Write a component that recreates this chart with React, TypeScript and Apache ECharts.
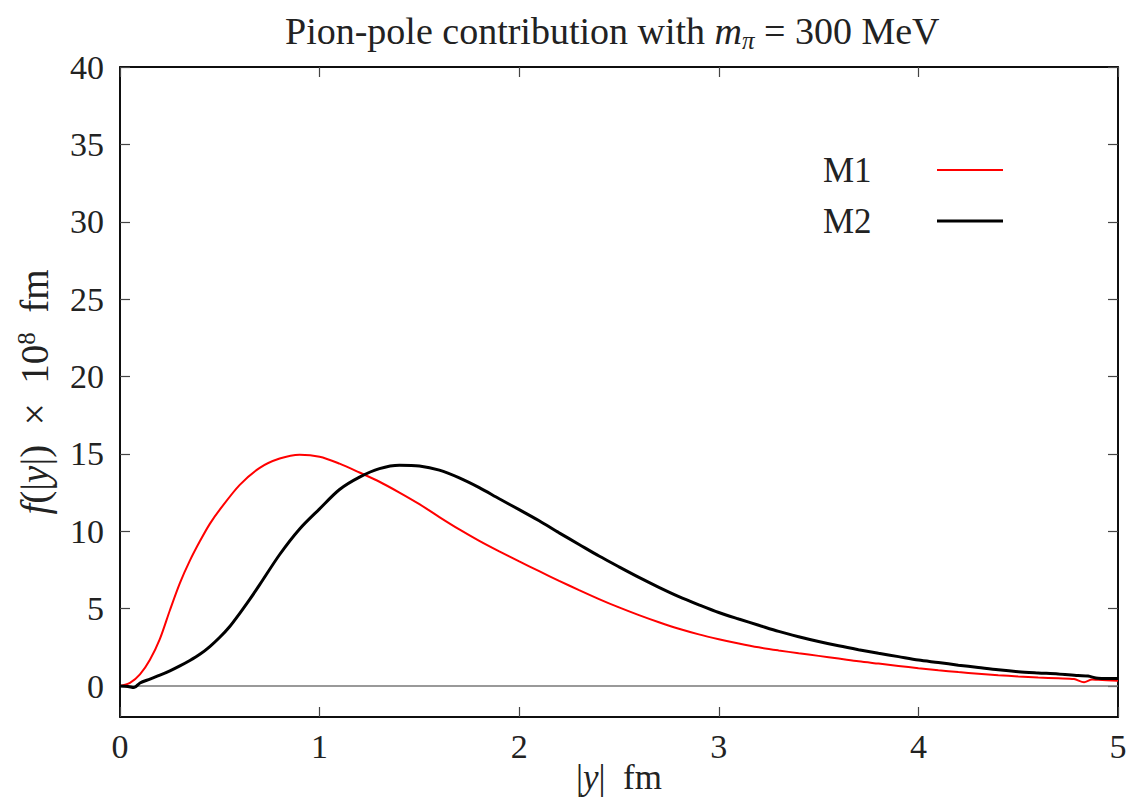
import React, { useEffect, useRef } from "react";
import * as echarts from "echarts";

const m1X = [0, 0.05, 0.1, 0.15, 0.2, 0.25, 0.3, 0.35, 0.4, 0.45, 0.5, 0.6, 0.7, 0.8, 0.9, 1.0, 1.1, 1.2, 1.3, 1.4, 1.5, 1.6, 1.7, 1.8, 1.9, 2.0, 2.1, 2.2, 2.3, 2.4, 2.5, 2.6, 2.7, 2.8, 2.9, 3.0, 3.1, 3.2, 3.3, 3.4, 3.5, 3.6, 3.7, 3.8, 3.9, 4.0, 4.1, 4.2, 4.3, 4.4, 4.5, 4.6, 4.7, 4.78, 4.83, 4.87, 4.9, 5.0];
const m1Y = [0, 0.2, 0.75, 1.7, 3.05, 4.9, 6.65, 8.1, 9.35, 10.48, 11.4, 13.0, 14.1, 14.7, 14.95, 14.82, 14.37, 13.8, 13.2, 12.5, 11.75, 10.92, 10.12, 9.38, 8.7, 8.05, 7.42, 6.8, 6.2, 5.62, 5.08, 4.58, 4.12, 3.7, 3.34, 3.03, 2.75, 2.5, 2.3, 2.12, 1.95, 1.78, 1.6, 1.45, 1.3, 1.15, 1.02, 0.9, 0.8, 0.7, 0.62, 0.55, 0.5, 0.45, 0.25, 0.42, 0.4, 0.35];

const m2X = [0, 0.04, 0.07, 0.1, 0.15, 0.2, 0.25, 0.3, 0.35, 0.4, 0.45, 0.5, 0.55, 0.6, 0.65, 0.7, 0.8, 0.9, 1.0, 1.1, 1.2, 1.3, 1.4, 1.5, 1.6, 1.7, 1.8, 1.9, 2.0, 2.1, 2.2, 2.3, 2.4, 2.5, 2.6, 2.7, 2.8, 2.9, 3.0, 3.1, 3.2, 3.3, 3.4, 3.5, 3.6, 3.7, 3.8, 3.9, 4.0, 4.1, 4.2, 4.3, 4.4, 4.5, 4.6, 4.7, 4.8, 4.85, 4.9, 5.0];
const m2Y = [0, -0.03, -0.1, 0.2, 0.45, 0.7, 0.98, 1.3, 1.65, 2.05, 2.55, 3.15, 3.85, 4.7, 5.6, 6.55, 8.5, 10.15, 11.45, 12.7, 13.5, 14.05, 14.27, 14.22, 13.95, 13.45, 12.82, 12.1, 11.4, 10.68, 9.9, 9.15, 8.4, 7.7, 7.02, 6.38, 5.78, 5.25, 4.75, 4.33, 3.93, 3.53, 3.19, 2.88, 2.6, 2.35, 2.12, 1.9, 1.68, 1.52, 1.35, 1.2, 1.05, 0.93, 0.85, 0.78, 0.68, 0.65, 0.5, 0.48];

const yTicks = [0, 5, 10, 15, 20, 25, 30, 35, 40];
const xTicks = [0, 1, 2, 3, 4, 5];
const seriesNames = ["M1", "M2"];

const FONT = "'Liberation Serif', 'DejaVu Serif', serif";
const INK = "#222";

export default function App() {
  const ref = useRef<HTMLDivElement>(null);
  useEffect(() => {
    if (!ref.current) return;
    const chart = echarts.init(ref.current, null, { renderer: "svg" });
    const tickStyle = { color: "#444", width: 1.2 };
    const baseX = {
      type: "value" as const,
      min: xTicks[0],
      max: xTicks[xTicks.length - 1],
      interval: 1,
      splitLine: { show: false },
      axisLine: { show: true, onZero: false, lineStyle: { color: "#000", width: 1.5 } },
      axisTick: { show: true, inside: true, length: 10, lineStyle: tickStyle },
    };
    const baseY = {
      type: "value" as const,
      min: -2,
      max: 40,
      splitLine: { show: false },
      axisLine: { show: true, onZero: false, lineStyle: { color: "#000", width: 1.5 } },
      axisTick: { show: true, inside: true, length: 10, lineStyle: tickStyle, customValues: yTicks },
    };
    const toPairs = (xs: number[], ys: number[]) => xs.map((x, i) => [x, ys[i]]);
    const txt = (size: number, extra: any = {}) => ({
      fontFamily: FONT,
      fontSize: size,
      fontWeight: "normal",
      color: INK,
      ...extra,
    });
    chart.setOption({
      animation: false,
      backgroundColor: "#fff",
      title: {
        text: "{n|Pion-pole contribution with }{i|m}{s|π}{n| = 300 MeV}",
        left: 280,
        top: 4,
        textStyle: {
          fontWeight: "normal",
          rich: {
            n: txt(38, { lineHeight: 44 }),
            i: txt(38, { fontStyle: "italic", lineHeight: 44 }),
            s: txt(25, { fontStyle: "italic", lineHeight: 24, verticalAlign: "bottom" }),
          },
        },
      },
      grid: {
        left: 120,
        right: 9,
        top: 67,
        bottom: 83,
        show: true,
        borderColor: "#000",
        borderWidth: 1.5,
        containLabel: false,
        outerBoundsMode: "none",
      },
      xAxis: [
        {
          ...baseX,
          position: "bottom",
          axisLabel: txt(34, { margin: 12 }),
          name: "{a||}{i|y}{a||  fm}",
          nameLocation: "middle",
          nameMoveOverlap: false,
          nameGap: 43,
          nameTextStyle: {
            rich: {
              a: txt(35),
              i: txt(35, { fontStyle: "italic" }),
            },
          },
        },
        { ...baseX, position: "top", axisLabel: { show: false } },
      ],
      yAxis: [
        {
          ...baseY,
          position: "left",
          axisLabel: txt(34, { margin: 16, customValues: yTicks }),
          name: "{i|f}{a|(|}{i|y}{a||)  ×  10}{p|8}{a|  fm}",
          nameLocation: "middle",
          nameMoveOverlap: false,
          nameGap: 66,
          nameRotate: 90,
          nameTextStyle: {
            rich: {
              a: txt(39, { lineHeight: 40 }),
              i: txt(39, { fontStyle: "italic", lineHeight: 40 }),
              p: txt(25, { lineHeight: 22, verticalAlign: "top" }),
            },
          },
        },
        { ...baseY, position: "right", axisLabel: { show: false } },
      ],
      series: [
        {
          name: seriesNames[0],
          type: "line",
          data: toPairs(m1X, m1Y),
          showSymbol: false,
          smooth: 0.3,
          lineStyle: { color: "#ff0000", width: 2 },
          itemStyle: { color: "#ff0000" },
          z: 3,
          markLine: {
            silent: true,
            symbol: ["none", "none"],
            label: { show: false },
            lineStyle: { color: "#777", type: "solid", width: 1.5 },
            data: [{ yAxis: 0 }],
            z: 1,
          },
        },
        {
          name: seriesNames[1],
          type: "line",
          data: toPairs(m2X, m2Y),
          showSymbol: false,
          smooth: 0.3,
          lineStyle: { color: "#000000", width: 3 },
          itemStyle: { color: "#000000" },
          z: 4,
        },
      ],
      graphic: [
        { type: "text", left: 823, top: 153, style: { text: seriesNames[0], fontFamily: FONT, fontSize: 35, fill: INK } },
        { type: "line", shape: { x1: 937, y1: 170, x2: 1003, y2: 170 }, style: { stroke: "#ff0000", lineWidth: 2 } },
        { type: "text", left: 823, top: 204, style: { text: seriesNames[1], fontFamily: FONT, fontSize: 35, fill: INK } },
        { type: "line", shape: { x1: 937, y1: 221, x2: 1003, y2: 221 }, style: { stroke: "#000000", lineWidth: 3 } },
      ],
    });
    return () => chart.dispose();
  }, []);
  return <div ref={ref} style={{ position: "fixed", left: 0, top: 0, width: 1127, height: 800 }} />;
}
